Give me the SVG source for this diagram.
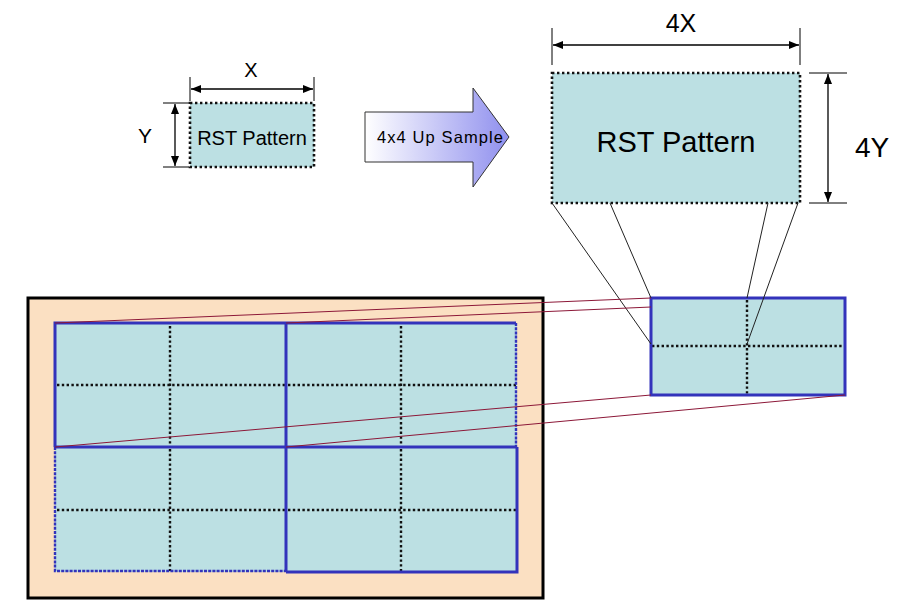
<svg xmlns="http://www.w3.org/2000/svg" width="905" height="616" viewBox="0 0 905 616">
<style>
text{font-family:"Liberation Sans",Arial,sans-serif;fill:#000}
.dim{stroke:#000;stroke-width:1.3;fill:none}
.ext{stroke:#000;stroke-width:1;fill:none}
.cell{fill:#bce0e3}
.dotb{stroke:#111;stroke-width:2.6;stroke-dasharray:2.4 2.6;fill:none}
.grid{stroke:#111;stroke-width:2.4;stroke-dasharray:2.4 2.4;fill:none}
.blue{stroke:#3333bb;stroke-width:3;fill:none}
.bluedot{stroke:#3333bb;stroke-width:2.4;stroke-dasharray:3 1.2;fill:none}
.map{stroke:#222;stroke-width:1;fill:none}
.red{stroke:#8c1838;stroke-width:1;fill:none}
</style>
<defs>
<marker id="ah" viewBox="0 0 10 10" refX="10" refY="5" markerWidth="10" markerHeight="10" markerUnits="userSpaceOnUse" orient="auto-start-reverse">
<path d="M0,1 L10,5 L0,9 Z" fill="#000"/>
</marker>
<linearGradient id="grad" x1="0" y1="0" x2="1" y2="0">
<stop offset="0" stop-color="#ffffff"/>
<stop offset="1" stop-color="#9090ee"/>
</linearGradient>
</defs>

<g id="small-pattern">
<rect class="cell" x="190" y="103" width="124" height="64"/>
<rect class="dotb" x="190" y="103" width="124" height="64"/>
<text x="252" y="145" font-size="20" text-anchor="middle">RST Pattern</text>
</g>
<g id="dim-x">
<line class="ext" x1="190" y1="77" x2="190" y2="101"/>
<line class="ext" x1="314" y1="77" x2="314" y2="101"/>
<line class="dim" x1="191" y1="89" x2="313" y2="89" marker-start="url(#ah)" marker-end="url(#ah)"/>
<text x="251" y="77" font-size="20" text-anchor="middle">X</text>
</g>
<g id="dim-y">
<line class="ext" x1="163" y1="103" x2="189" y2="103"/>
<line class="ext" x1="163" y1="167" x2="189" y2="167"/>
<line class="dim" x1="175" y1="104" x2="175" y2="166" marker-start="url(#ah)" marker-end="url(#ah)"/>
<text x="145" y="143" font-size="21" text-anchor="middle">Y</text>
</g>

<g id="upsample-arrow">
<path d="M365,112 L473,112 L473,88 L509,137 L473,187 L473,162 L365,162 Z" fill="url(#grad)" stroke="#333" stroke-width="1"/>
<text x="440" y="143" font-size="16.5" text-anchor="middle" textLength="126" lengthAdjust="spacing">4x4 Up Sample</text>
</g>

<g id="big-pattern">
<rect class="cell" x="552" y="73" width="248" height="130"/>
<rect class="dotb" x="552" y="73" width="248" height="130"/>
<text x="676" y="152" font-size="29" text-anchor="middle">RST Pattern</text>
</g>
<g id="dim-4x">
<line class="ext" x1="552" y1="28" x2="552" y2="65"/>
<line class="ext" x1="800" y1="28" x2="800" y2="65"/>
<line class="dim" x1="553" y1="45" x2="799" y2="45" marker-start="url(#ah)" marker-end="url(#ah)"/>
<text x="681" y="32" font-size="25" text-anchor="middle">4X</text>
</g>
<g id="dim-4y">
<line class="ext" x1="809" y1="73" x2="847" y2="73"/>
<line class="ext" x1="809" y1="203" x2="847" y2="203"/>
<line class="dim" x1="828" y1="74" x2="828" y2="202" marker-start="url(#ah)" marker-end="url(#ah)"/>
<text x="872" y="157" font-size="28" text-anchor="middle">4Y</text>
</g>

<g id="frame">
<rect x="28" y="298" width="515" height="300" fill="#fbe0c2" stroke="#000" stroke-width="3"/>
</g>
<g id="blocks">
<rect class="cell" x="55" y="323" width="462" height="249"/>
<g id="block-1">
<line class="grid" x1="170" y1="326" x2="170" y2="446"/>
<line class="grid" x1="57" y1="385" x2="285" y2="385"/>
</g>
<g id="block-2">
<line class="grid" x1="401" y1="326" x2="401" y2="446"/>
<line class="grid" x1="288" y1="385" x2="516" y2="385"/>
</g>
<g id="block-3">
<line class="grid" x1="170" y1="449" x2="170" y2="571"/>
<line class="grid" x1="57" y1="510" x2="285" y2="510"/>
</g>
<g id="block-4">
<line class="grid" x1="401" y1="449" x2="401" y2="571"/>
<line class="grid" x1="288" y1="510" x2="516" y2="510"/>
</g>
<path class="blue" d="M55,447 L55,323 L516,323"/>
<line class="bluedot" x1="516" y1="323" x2="516" y2="447"/>
<line class="blue" x1="55" y1="447" x2="516" y2="447"/>
<line class="blue" x1="286" y1="323" x2="286" y2="572"/>
<path class="blue" d="M286,572 L517,572 L517,447"/>
<path class="bluedot" d="M55,447 L55,571 L286,571"/>
</g>

<g id="zoom-box">
<rect class="cell" x="651" y="298" width="194" height="97"/>
<line class="grid" x1="747" y1="300" x2="747" y2="394"/>
<line class="grid" x1="652" y1="346" x2="844" y2="346"/>
<rect class="blue" x="651" y="298" width="194" height="97"/>
</g>

<g id="connectors">
<line class="map" x1="552" y1="203" x2="651" y2="344"/>
<line class="map" x1="610" y1="203" x2="651" y2="298"/>
<line class="map" x1="768" y1="203" x2="747" y2="298"/>
<line class="map" x1="798" y1="203" x2="747" y2="344"/>
<line class="red" x1="55" y1="323" x2="651" y2="298"/>
<line class="red" x1="286" y1="323" x2="651" y2="307"/>
<line class="red" x1="55" y1="447" x2="651" y2="395"/>
<line class="red" x1="286" y1="447" x2="845" y2="395"/>
</g>
</svg>
